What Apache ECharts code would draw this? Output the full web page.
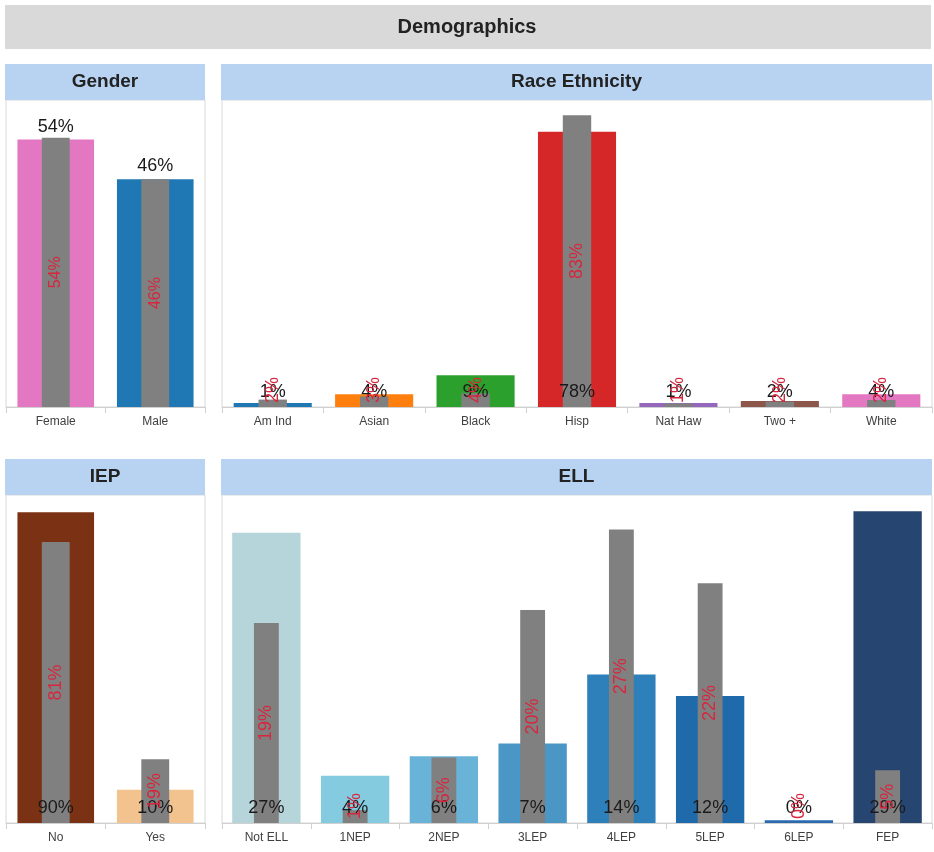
<!DOCTYPE html>
<html>
<head>
<meta charset="utf-8">
<script src="https://cdn.jsdelivr.net/npm/echarts@6/dist/echarts.min.js"></script>
<style>
html,body{margin:0;padding:0;background:#fff;}
#chart{width:934px;height:852px;}
</style>
</head>
<body>
<div id="chart"></div>
<script>
// ---- data ----
const genderCats = ['Female', 'Male'];
const genderPct = [54, 46];
const genderGray = [54.4, 46];

const raceCats = ['Am Ind', 'Asian', 'Black', 'Hisp', 'Nat Haw', 'Two +', 'White'];
const racePct = [1.1, 3.6, 9, 78, 1.1, 1.7, 3.6];
const raceGray = [2.1, 3, 3.9, 82.7, 1, 1.5, 2];

const iepCats = ['No', 'Yes'];
const iepPct = [90, 9.6];
const iepGray = [81.4, 18.5];

const ellCats = ['Not ELL', '1NEP', '2NEP', '3LEP', '4LEP', '5LEP', '6LEP', 'FEP'];
const ellPct = [27, 4.4, 6.2, 7.4, 13.8, 11.8, 0.25, 29];
const ellGray = [18.6, 1.2, 6.1, 19.8, 27.3, 22.3, 0, 4.9];

// ---- styles ----
const genderColors = ['#e377c2', '#1f77b4'];
const raceColors = ['#1f77b4', '#ff7f0e', '#2ca02c', '#d62728', '#9467bd', '#8c564b', '#e377c2'];
const iepColors = ['#7b3113', '#f2c28f'];
const ellColors = ['#b5d5db', '#85cbe0', '#6ab3d8', '#4a97c5', '#2d80ba', '#1e6aab', '#2a6aae', '#264570'];

const FONT = '"Liberation Sans", Arial, sans-serif';
const GRAY = '#808080';
const RED = '#d7263d';
const HEADER = '#b8d3f2';

const panels = [
  {title: 'Gender', cats: genderCats, vals: genderPct, gray: genderGray, colors: genderColors,
   hx: 5, hw: 200, hy: 64, left: 6, width: 199, top: 100, bottom: 407, max: 62, blackPos: 'top', redSize: 16},
  {title: 'Race Ethnicity', cats: raceCats, vals: racePct, gray: raceGray, colors: raceColors,
   hx: 221, hw: 711, hy: 64, left: 222, width: 710, top: 100, bottom: 407, max: 87, blackPos: 'insideBottom', redSize: 18},
  {title: 'IEP', cats: iepCats, vals: iepPct, gray: iepGray, colors: iepColors,
   hx: 5, hw: 200, hy: 459, left: 6, width: 199, top: 495, bottom: 823, max: 95, blackPos: 'insideBottom', redSize: 18},
  {title: 'ELL', cats: ellCats, vals: ellPct, gray: ellGray, colors: ellColors,
   hx: 221, hw: 711, hy: 459, left: 222, width: 710, top: 495, bottom: 823, max: 30.5, blackPos: 'insideBottom', redSize: 18}
];

const pct = v => Math.round(v) + '%';

const grid = [], xAxis = [], yAxis = [], series = [];
const graphic = [
  {type: 'rect', shape: {x: 5, y: 5, width: 926, height: 44}, style: {fill: '#d9d9d9'}},
  {type: 'text', x: 467, y: 27, style: {text: 'Demographics', font: 'bold 20px ' + FONT, fill: '#222', textAlign: 'center', textVerticalAlign: 'middle'}}
];

panels.forEach((p, i) => {
  graphic.push({type: 'rect', shape: {x: p.hx, y: p.hy, width: p.hw, height: 36}, style: {fill: HEADER}});
  graphic.push({type: 'text', x: p.hx + p.hw / 2, y: p.hy + 18,
    style: {text: p.title, font: 'bold 19px ' + FONT, fill: '#222', textAlign: 'center', textVerticalAlign: 'middle'}});

  grid.push({left: p.left, top: p.top, width: p.width, height: p.bottom - p.top,
    show: true, borderColor: '#d9d9d9', borderWidth: 1, backgroundColor: 'transparent'});

  xAxis.push({type: 'category', gridIndex: i, data: p.cats,
    axisLine: {lineStyle: {color: '#d0d0d0'}},
    axisTick: {show: true, length: 6, lineStyle: {color: '#d0d0d0'}},
    axisLabel: {color: '#404040', fontSize: 12, fontFamily: FONT, margin: 9, interval: 0}});
  xAxis.push({type: 'category', gridIndex: i, data: p.cats, show: false});
  yAxis.push({type: 'value', gridIndex: i, min: 0, max: p.max, show: false, splitLine: {show: false}});

  // coloured bars
  series.push({type: 'bar', xAxisIndex: 2 * i, yAxisIndex: i, barWidth: '77%', barGap: '-100%', z: 2,
    data: p.vals.map((v, k) => ({value: v, itemStyle: {color: p.colors[k]}})),
    label: {show: false}});
  // grey bars
  series.push({type: 'bar', xAxisIndex: 2 * i + 1, yAxisIndex: i, barWidth: '28%', barGap: '-100%', z: 3,
    itemStyle: {color: GRAY}, data: p.gray.slice(), label: {show: false}});
  // black value labels (transparent carrier on top of the grey bars)
  series.push({type: 'bar', xAxisIndex: 2 * i, yAxisIndex: i, barWidth: '77%', barGap: '-100%', z: 4,
    itemStyle: {color: 'rgba(0,0,0,0)'}, silent: true,
    data: p.vals.slice(),
    label: {show: true, position: p.blackPos, distance: p.blackPos === 'top' ? 4 : 6,
      formatter: d => pct(d.value), color: '#1a1a1a', fontSize: 18, fontFamily: FONT}});
  // red rotated labels for grey bars
  const lim = p.bottom - 4;
  series.push({type: 'bar', xAxisIndex: 2 * i + 1, yAxisIndex: i, barWidth: '28%', barGap: '-100%', z: 5,
    itemStyle: {color: 'rgba(0,0,0,0)'}, silent: true,
    data: p.gray.slice(),
    label: {show: true, position: 'inside', rotate: 90,
      formatter: d => pct(d.value), color: RED, fontSize: p.redSize, fontFamily: FONT},
    labelLayout: function (params) {
      const r = params.labelRect;
      const b = r.y + r.height;
      if (b > lim) return {dx: b - lim};
      return {};
    }});
});

const chart = echarts.init(document.getElementById('chart'), null, {renderer: 'canvas'});
chart.setOption({
  animation: false,
  backgroundColor: '#ffffff',
  graphic: graphic,
  grid: grid,
  xAxis: xAxis,
  yAxis: yAxis,
  series: series
});
</script>
</body>
</html>
